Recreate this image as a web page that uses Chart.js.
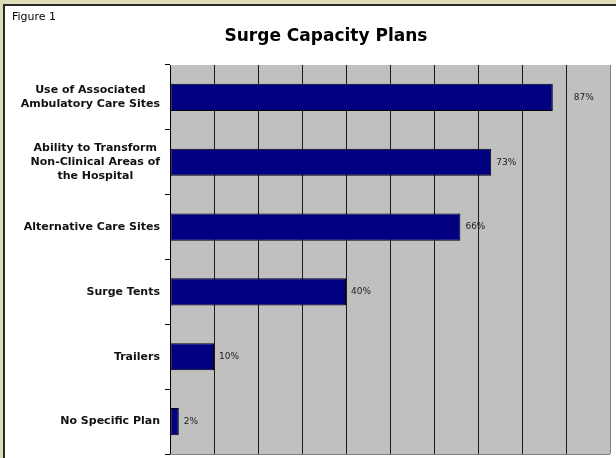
<!DOCTYPE html>
<html>
<head>
<meta charset="utf-8">
<script src="https://cdn.jsdelivr.net/npm/chart.js@4"></script>
<style>
html,body{margin:0;padding:0;background:#DCDCB6;}
#wrap{position:absolute;left:0;top:0;width:616px;height:458px;}
</style>
</head>
<body>
<div id="wrap"><canvas id="c" width="616" height="458"></canvas></div>
<script>
const categories = [
  ["Use of Associated", "Ambulatory Care Sites"],
  ["Ability to Transform", "Non-Clinical Areas of", "the Hospital"],
  ["Alternative Care Sites"],
  ["Surge Tents"],
  ["Trailers"],
  ["No Specific Plan"]
];
const values = [87, 73, 66, 40, 10, 2];
const valueLabels = ["87%", "73%", "66%", "40%", "10%", "2%"];
const chartTitle = "Surge Capacity Plans";
const figureLabel = "Figure 1";

const LABEL_FONT = "bold 11px 'DejaVu Sans', sans-serif";

const framePlugin = {
  id: 'frame',
  beforeDraw(chart) {
    const ctx = chart.ctx;
    ctx.save();
    ctx.fillStyle = '#DCDCB6';
    ctx.fillRect(0, 0, chart.width, chart.height);
    ctx.fillStyle = '#FFFFFF';
    ctx.fillRect(4, 5, chart.width - 4, chart.height - 5);
    ctx.fillStyle = '#2a2a2a';
    ctx.fillRect(3, 4, chart.width - 3, 2);
    ctx.fillRect(3, 4, 2, chart.height - 4);
    const a = chart.chartArea;
    ctx.fillStyle = '#C0C0C0';
    ctx.fillRect(a.left, a.top, a.right - a.left, a.bottom - a.top);
    ctx.restore();
  },
  afterDraw(chart) {
    const ctx = chart.ctx;
    const a = chart.chartArea;
    const ys = chart.scales.y;
    ctx.save();
    ctx.fillStyle = '#000';
    ctx.textBaseline = 'alphabetic';
    ctx.textAlign = 'left';
    ctx.font = "11px 'DejaVu Sans', sans-serif";
    ctx.fillText(figureLabel, 12, 20);
    ctx.textAlign = 'center';
    ctx.font = "bold 17px 'DejaVu Sans', sans-serif";
    ctx.fillText(chartTitle, 326, 41);
    ctx.strokeStyle = '#808080';
    ctx.lineWidth = 1;
    ctx.beginPath();
    ctx.moveTo(a.right + 0.5, a.top);
    ctx.lineTo(a.right + 0.5, a.bottom);
    ctx.moveTo(a.left, a.bottom + 0.5);
    ctx.lineTo(a.right, a.bottom + 0.5);
    ctx.stroke();
    ctx.font = LABEL_FONT;
    ctx.textBaseline = 'middle';
    ctx.fillStyle = '#111';
    const lh = 14;
    categories.forEach((lines, i) => {
      const yc = ys.getPixelForValue(i);
      const w = Math.max(...lines.map(l => ctx.measureText(l).width));
      const right = a.left - 10;
      const cx = right - w / 2;
      ctx.textAlign = 'center';
      lines.forEach((l, j) => {
        ctx.fillText(l, cx, yc + (j - (lines.length - 1) / 2) * lh);
      });
    });
    ctx.font = "9px 'DejaVu Sans', sans-serif";
    ctx.textAlign = 'left';
    ctx.fillStyle = '#222';
    const meta = chart.getDatasetMeta(0);
    meta.data.forEach((bar, i) => {
      const gap = i === 0 ? 21 : 5;
      ctx.fillText(valueLabels[i], bar.x + gap, bar.y);
    });
    ctx.restore();
  }
};

new Chart(document.getElementById('c'), {
  type: 'bar',
  data: {
    labels: categories.map(c => c.join(' ')),
    datasets: [{
      data: values,
      backgroundColor: '#000080',
      borderColor: '#000000',
      borderWidth: 1,
      borderSkipped: false,
      categoryPercentage: 0.42,
      barPercentage: 1.0
    }]
  },
  options: {
    indexAxis: 'y',
    responsive: false,
    animation: false,
    devicePixelRatio: 1,
    layout: { padding: { top: 65, bottom: 4, right: 6, left: 0 } },
    plugins: {
      legend: { display: false },
      title: { display: false },
      tooltip: { enabled: false }
    },
    scales: {
      x: {
        display: true,
        min: 0,
        max: 100,
        ticks: { display: false, stepSize: 10 },
        grid: {
          color: '#1a1a1a',
          lineWidth: 1,
          drawTicks: false
        },
        border: { display: false }
      },
      y: {
        ticks: { display: false },
        afterFit(scale) { scale.width = 170; },
        grid: {
          offset: true,
          drawOnChartArea: false,
          drawTicks: true,
          tickLength: 5,
          color: '#000'
        },
        border: { display: true, color: '#000', width: 1 }
      }
    }
  },
  plugins: [framePlugin]
});
</script>
</body>
</html>
